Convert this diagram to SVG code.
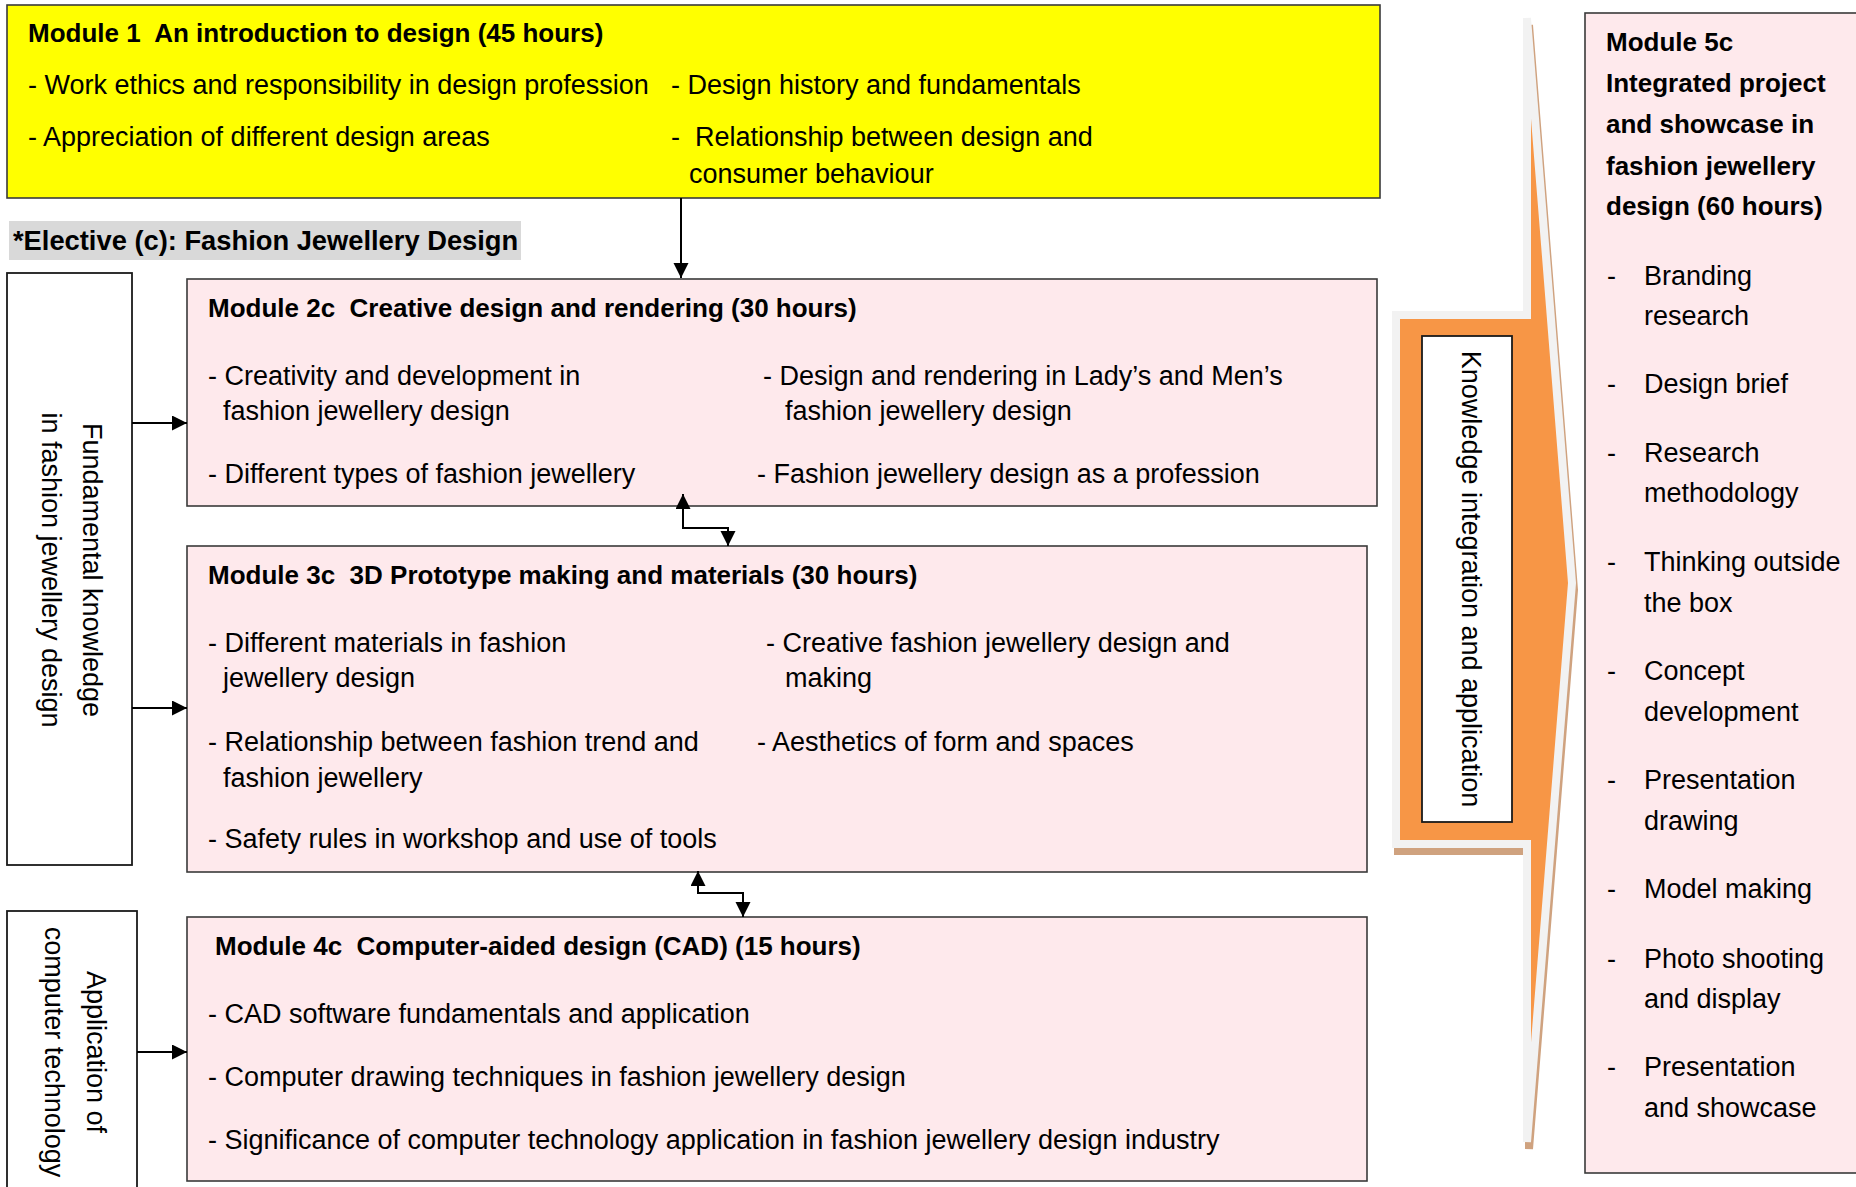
<svg xmlns="http://www.w3.org/2000/svg" width="1856" height="1187" viewBox="0 0 1856 1187" xml:space="preserve">
<defs>
<style>
text{font-family:"Liberation Sans",Arial,sans-serif;fill:#000;white-space:pre}
.t{font-size:27px}
.b{font-size:26px;font-weight:bold}
.b5{font-size:26px;font-weight:bold}
.box{fill:#FEE9EC;stroke:#3a3a3a;stroke-width:1.6}
.wbox{fill:#fff;stroke:#1a1a1a;stroke-width:1.8}
.con{fill:none;stroke:#000;stroke-width:2}
</style>
<marker id="ah" markerUnits="userSpaceOnUse" markerWidth="16" markerHeight="16" refX="15" refY="7.5" orient="auto-start-reverse" viewBox="0 0 16 16">
<path d="M0,0 L15,7.5 L0,15 z" fill="#000"/>
</marker>
</defs>
<rect width="1856" height="1187" fill="#fff"/>

<g id="module1">
<rect x="7" y="5" width="1373" height="193" fill="#FFFF00" stroke="#3a3a3a" stroke-width="1.6"/>
<text class="b" x="28" y="42">Module 1  An introduction to design (45 hours)</text>
<text class="t" x="28" y="94">- Work ethics and responsibility in design profession</text>
<text class="t" x="671" y="94">- Design history and fundamentals</text>
<text class="t" x="28" y="146">- Appreciation of different design areas</text>
<text class="t" x="671" y="146">-  Relationship between design and</text>
<text class="t" x="689" y="183">consumer behaviour</text>
</g>

<g id="elective-label">
<rect x="9" y="221" width="512" height="39" fill="#D9D9D9"/>
<text x="13" y="250" style="font-size:27.3px;font-weight:bold">*Elective (c): Fashion Jewellery Design</text>
</g>

<g id="fundamental-knowledge">
<rect class="wbox" x="7" y="273" width="125" height="592"/>
<text class="t" transform="translate(83,570) rotate(90)" text-anchor="middle">Fundamental knowledge</text>
<text class="t" transform="translate(42,570) rotate(90)" text-anchor="middle">in fashion jewellery design</text>
</g>

<g id="computer-technology">
<rect class="wbox" x="7" y="911" width="130" height="300"/>
<text class="t" transform="translate(87,1052) rotate(90)" text-anchor="middle">Application of</text>
<text class="t" transform="translate(45,1052) rotate(90)" text-anchor="middle">computer technology</text>
</g>

<g id="module2c">
<rect class="box" x="187" y="279" width="1190" height="227"/>
<text class="b" x="208" y="317">Module 2c  Creative design and rendering (30 hours)</text>
<text class="t" x="208" y="385">- Creativity and development in</text>
<text class="t" x="223" y="420">fashion jewellery design</text>
<text class="t" x="763" y="385">- Design and rendering in Lady’s and Men’s</text>
<text class="t" x="785" y="420">fashion jewellery design</text>
<text class="t" x="208" y="483">- Different types of fashion jewellery</text>
<text class="t" x="757" y="483">- Fashion jewellery design as a profession</text>
</g>

<g id="module3c">
<rect class="box" x="187" y="546" width="1180" height="326"/>
<text class="b" x="208" y="584">Module 3c  3D Prototype making and materials (30 hours)</text>
<text class="t" x="208" y="652">- Different materials in fashion</text>
<text class="t" x="223" y="687">jewellery design</text>
<text class="t" x="766" y="652">- Creative fashion jewellery design and</text>
<text class="t" x="785" y="687">making</text>
<text class="t" x="208" y="751">- Relationship between fashion trend and</text>
<text class="t" x="223" y="787">fashion jewellery</text>
<text class="t" x="757" y="751">- Aesthetics of form and spaces</text>
<text class="t" x="208" y="848">- Safety rules in workshop and use of tools</text>
</g>

<g id="module4c">
<rect class="box" x="187" y="917" width="1180" height="264"/>
<text class="b" x="215" y="955">Module 4c  Computer-aided design (CAD) (15 hours)</text>
<text class="t" x="208" y="1023">- CAD software fundamentals and application</text>
<text class="t" x="208" y="1086">- Computer drawing techniques in fashion jewellery design</text>
<text class="t" x="208" y="1149">- Significance of computer technology application in fashion jewellery design industry</text>
</g>

<g id="knowledge-arrow">
<path d="M1396,315 L1527,315 L1527,18 L1572,583 L1527,1142 L1527,844 L1396,844 Z" transform="translate(2,7)" fill="#CFA27F" stroke="#CFA27F" stroke-width="8" stroke-linejoin="miter"/>
<path d="M1396,315 L1527,315 L1527,18 L1572,583 L1527,1142 L1527,844 L1396,844 Z" fill="#F79646" stroke="#F2F2F2" stroke-width="8" stroke-linejoin="miter"/>
<rect x="1422" y="336" width="90" height="486" fill="#fff" stroke="#1a1a1a" stroke-width="1.8"/>
<text class="t" transform="translate(1462,579) rotate(90)" text-anchor="middle">Knowledge integration and application</text>
</g>

<g id="module5c">
<rect class="box" x="1585" y="13" width="290" height="1160"/>
<text class="b5" x="1606" y="51">Module 5c</text>
<text class="b5" x="1606" y="92">Integrated project</text>
<text class="b5" x="1606" y="133">and showcase in</text>
<text class="b5" x="1606" y="175">fashion jewellery</text>
<text class="b5" x="1606" y="215">design (60 hours)</text>
<text class="t" x="1607" y="285">-</text><text class="t" x="1644" y="285">Branding</text>
<text class="t" x="1644" y="325">research</text>
<text class="t" x="1607" y="393">-</text><text class="t" x="1644" y="393">Design brief</text>
<text class="t" x="1607" y="462">-</text><text class="t" x="1644" y="462">Research</text>
<text class="t" x="1644" y="502">methodology</text>
<text class="t" x="1607" y="571">-</text><text class="t" x="1644" y="571">Thinking outside</text>
<text class="t" x="1644" y="612">the box</text>
<text class="t" x="1607" y="680">-</text><text class="t" x="1644" y="680">Concept</text>
<text class="t" x="1644" y="721">development</text>
<text class="t" x="1607" y="789">-</text><text class="t" x="1644" y="789">Presentation</text>
<text class="t" x="1644" y="830">drawing</text>
<text class="t" x="1607" y="898">-</text><text class="t" x="1644" y="898">Model making</text>
<text class="t" x="1607" y="968">-</text><text class="t" x="1644" y="968">Photo shooting</text>
<text class="t" x="1644" y="1008">and display</text>
<text class="t" x="1607" y="1076">-</text><text class="t" x="1644" y="1076">Presentation</text>
<text class="t" x="1644" y="1117">and showcase</text>
</g>

<g id="connectors">
<line class="con" x1="681" y1="198" x2="681" y2="278" marker-end="url(#ah)"/>
<line class="con" x1="132" y1="423" x2="187" y2="423" marker-end="url(#ah)"/>
<line class="con" x1="132" y1="708" x2="187" y2="708" marker-end="url(#ah)"/>
<line class="con" x1="137" y1="1052" x2="187" y2="1052" marker-end="url(#ah)"/>
<polyline class="con" points="683,494 683,528 728,528 728,546" marker-start="url(#ah)" marker-end="url(#ah)"/>
<polyline class="con" points="698,871 698,893 743,893 743,917" marker-start="url(#ah)" marker-end="url(#ah)"/>
</g>
</svg>
